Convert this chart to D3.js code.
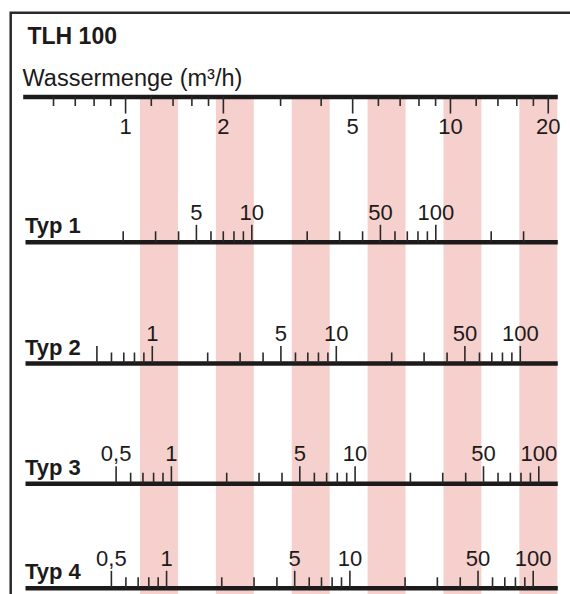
<!DOCTYPE html>
<html><head><meta charset="utf-8">
<script src="https://cdn.jsdelivr.net/npm/d3@7"></script>
<style>body{margin:0;background:#fff}svg{display:block}</style>
</head><body><svg id="c" width="570" height="594"></svg>
<script>
// ---------- data ----------
const chartTitle = "TLH 100";
const flowLabel = "Wassermenge (m³/h)";
const flowDomain = [0.484, 21.4];
const flowTicks = [0.6,0.7,0.8,0.9,1,1.2,1.4,1.6,1.8,2,3,4,5,6,7,8,9,10,12,14,16,18,20];
const flowMajor = [1,2,5,10,20];
const flowLabels = [1,2,5,10,20];

const typeNames = ["Typ 1","Typ 2","Typ 3","Typ 4"];
const typeDomains = [[0.589,460.3],[0.2046,159.9],[0.1606,126.9],[0.170,136.2]];
const typeTicks = [
  [2,3,4,5,6,7,8,9,10,20,30,40,50,60,70,80,90,100,200,300],
  [0.5,0.6,0.7,0.8,0.9,1,2,3,4,5,6,7,8,9,10,20,30,40,50,60,70,80,90,100],
  [0.5,0.6,0.7,0.8,0.9,1,2,3,4,5,6,7,8,9,10,20,30,40,50,60,70,80,90,100],
  [0.5,0.6,0.7,0.8,0.9,1,2,3,4,5,6,7,8,9,10,20,30,40,50,60,70,80,90,100]
];
const typeMajor = [[5,10,50,100],[0.5,1,5,10,50,100],[0.5,1,5,10,50,100],[0.5,1,5,10,50,100]];
const typeLabels = [[5,10,50,100],[1,5,10,50,100],[0.5,1,5,10,50,100],[0.5,1,5,10,50,100]];

const bandCount = 14;
const pinkBands = [3,5,7,9,11,13];

// ---------- layout ----------
const W = 570, H = 594;
const topAxisY = 96.5;
const rowY = [241.8, 363, 483.2, 587.8];
const axisX0 = 22.7, typeX0 = 25, axisX1 = 557.3;
const ink = "#1c1a1a";
const font = "'Liberation Sans', Arial, Helvetica, sans-serif";

const svg = d3.select("#c");
const fmt = d3.formatLocale({decimal: ",", thousands: ".", grouping: [3], currency: ["", "€"]}).format("~g");

// bands
const bandX = d3.scaleLinear().domain([0, bandCount]).range([26.2, axisX1]);
svg.append("g").selectAll("rect").data(pinkBands).join("rect")
  .attr("x", d => bandX(d)).attr("width", d => bandX(d + 1) - bandX(d))
  .attr("y", topAxisY).attr("height", H - topAxisY + 5)
  .attr("fill", "#f6d0cc");

// frame
svg.append("path").attr("d", `M10.7,${H + 5} V12.8 H${W + 5}`)
  .attr("fill", "none").attr("stroke", "#2a2a2a").attr("stroke-width", 2.5);

// title
svg.append("text").attr("x", 27.5).attr("y", 44).text(chartTitle)
  .attr("font-family", font).attr("font-weight", "bold").attr("font-size", 23).attr("fill", ink);
svg.append("text").attr("x", 22.5).attr("y", 85.5).text(flowLabel)
  .attr("font-family", font).attr("font-size", 23.5).attr("fill", ink);

function styleAxis(g, major, dir, minorLen, majorLen, labelY) {
  g.select(".domain").attr("stroke", ink).attr("stroke-width", 4.6);
  g.selectAll(".tick line").attr("stroke", "#2a2a2a").attr("stroke-width", 1.6)
    .attr("y2", d => dir * (major.includes(d) ? majorLen : minorLen));
  g.selectAll(".tick text").attr("y", labelY).attr("dy", null)
    .attr("fill", ink).attr("font-family", font).attr("font-size", 22);
  g.attr("font-family", null).attr("font-size", null);
}

// top axis: flow rate
const xFlow = d3.scaleLog().domain(flowDomain).range([axisX0, axisX1]);
const gTop = svg.append("g").attr("transform", `translate(0,${topAxisY})`)
  .call(d3.axisBottom(xFlow).tickValues(flowTicks).tickSizeOuter(0)
    .tickFormat(d => flowLabels.includes(d) ? fmt(d) : ""));
styleAxis(gTop, flowMajor, 1, 9.5, 17, 37);

// type axes
typeNames.forEach((name, i) => {
  const x = d3.scaleLog().domain(typeDomains[i]).range([typeX0, axisX1]);
  const g = svg.append("g").attr("transform", `translate(0,${rowY[i]})`)
    .call(d3.axisTop(x).tickValues(typeTicks[i]).tickSizeOuter(0)
      .tickFormat(d => typeLabels[i].includes(d) ? fmt(d) : ""));
  styleAxis(g, typeMajor[i], -1, 10.5, 17, -22);
  svg.append("text").attr("x", 25).attr("y", rowY[i] - 8.5).text(name)
    .attr("font-family", font).attr("font-weight", "bold").attr("font-size", 22).attr("fill", ink);
});
</script>
</body></html>
